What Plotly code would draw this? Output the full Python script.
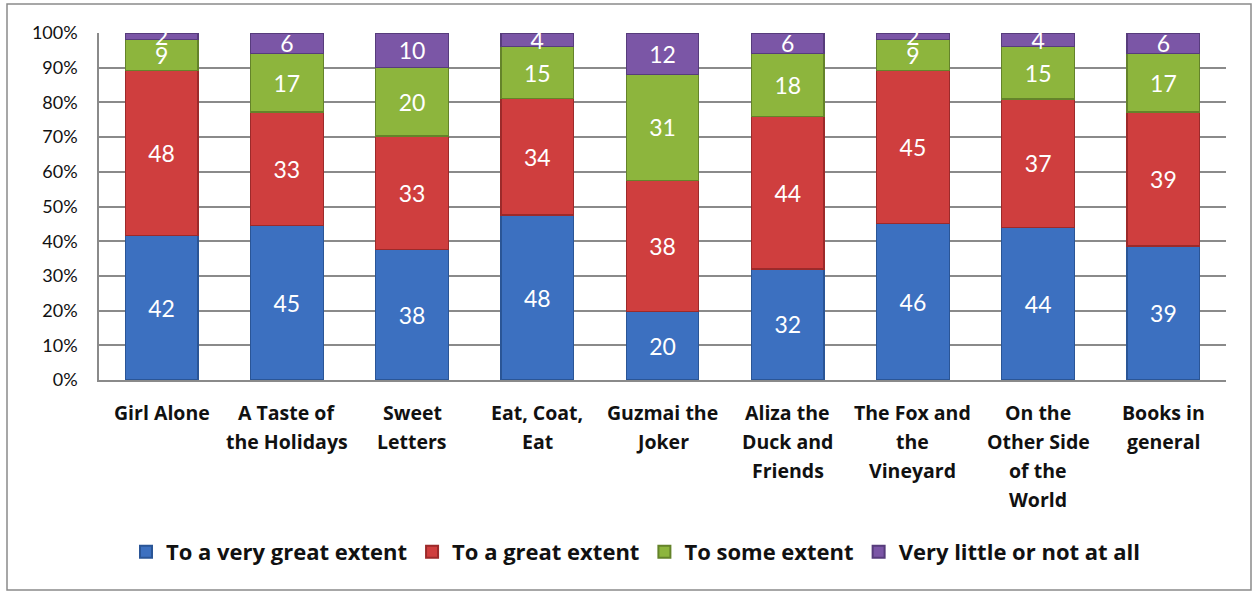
import plotly.graph_objects as go

# Survey responses per book (raw counts; bars are normalised to 100%)
categories = [
    "Girl Alone",
    "A Taste of the Holidays",
    "Sweet Letters",
    "Eat, Coat, Eat",
    "Guzmai the Joker",
    "Aliza the Duck and Friends",
    "The Fox and the Vineyard",
    "On the Other Side of the World",
    "Books in general",
]
category_lines = [
    ["Girl Alone"],
    ["A Taste of", "the Holidays"],
    ["Sweet", "Letters"],
    ["Eat, Coat,", "Eat"],
    ["Guzmai the", "Joker"],
    ["Aliza the", "Duck and", "Friends"],
    ["The Fox and", "the", "Vineyard"],
    ["On the", "Other Side", "of the", "World"],
    ["Books in", "general"],
]

very_great = [42, 45, 38, 48, 20, 32, 46, 44, 39]
great = [48, 33, 33, 34, 38, 44, 45, 37, 39]
some = [9, 17, 20, 15, 31, 18, 9, 15, 17]
little = [2, 6, 10, 4, 12, 6, 2, 4, 6]

series = [
    ("To a very great extent", very_great, "#3c70c0", "#2a5596"),
    ("To a great extent", great, "#cf3e3e", "#9c2a2a"),
    ("To some extent", some, "#8db53d", "#64832a"),
    ("Very little or not at all", little, "#7b56a6", "#573c7c"),
]

FONT = "Lato, 'Open Sans', 'DejaVu Sans', sans-serif"
BOLD_FONT = "'Open Sans', Lato, 'DejaVu Sans', sans-serif"

fig = go.Figure()
for name, vals, color, edge in series:
    fig.add_trace(go.Bar(
        name=name,
        x=categories,
        y=vals,
        text=[str(v) for v in vals],
        texttemplate="%{text}",
        textposition="inside",
        insidetextanchor="middle",
        textangle=0,
        textfont=dict(color="white", size=23, family=FONT),
        marker=dict(color=color, line=dict(color=edge, width=1.2)),
    ))

# Multi-line bold category labels under each bar
annotations = []
for cat, lines in zip(categories, category_lines):
    for i, line in enumerate(lines):
        annotations.append(dict(
            x=cat, xref="x", y=0, yref="paper",
            yanchor="top", yshift=-17 - 29 * i,
            text="<b>%s</b>" % line, showarrow=False,
            font=dict(size=19.5, color="#111111", family=BOLD_FONT),
        ))

L, R, T, B = 99, 29, 33, 215
W, H = 1255, 595
pw, ph = W - L - R, H - T - B

def px_x(p):
    return (p - L) / pw

def px_y(p):
    return (H - B - p) / ph

fig.update_layout(
    width=W, height=H,
    margin=dict(l=L, r=R, t=T, b=B),
    barmode="stack",
    barnorm="percent",
    bargap=0.42,
    plot_bgcolor="white",
    paper_bgcolor="white",
    font=dict(family=FONT, color="#111111"),
    uniformtext=dict(minsize=23, mode="show"),
    showlegend=True,
    legend=dict(
        orientation="h", x=px_x(636), xanchor="center",
        y=px_y(552), yanchor="middle",
        font=dict(size=22, family=BOLD_FONT, color="#111111", weight="bold"),
        itemsizing="constant", itemwidth=30,
        traceorder="normal",
    ),
    annotations=annotations,
    shapes=[dict(
        type="rect", xref="paper", yref="paper",
        x0=px_x(7), x1=px_x(1251), y0=px_y(590), y1=px_y(4),
        line=dict(color="#8a8a8a", width=1.5), fillcolor="rgba(0,0,0,0)",
        layer="below",
    )],
)
fig.update_xaxes(
    showticklabels=False, showgrid=False,
    showline=True, linecolor="#8a8a8a", linewidth=1.5,
)
fig.update_yaxes(
    range=[0, 100], dtick=10, ticksuffix="%",
    showgrid=True, gridcolor="#8a8a8a", gridwidth=1.5,
    showline=True, linecolor="#8a8a8a", linewidth=1.5,
    tickfont=dict(size=18, family=FONT, color="#111111"),
    ticks="", ticklabelstandoff=16,
    zeroline=False,
)

fig.write_html("out.html")
